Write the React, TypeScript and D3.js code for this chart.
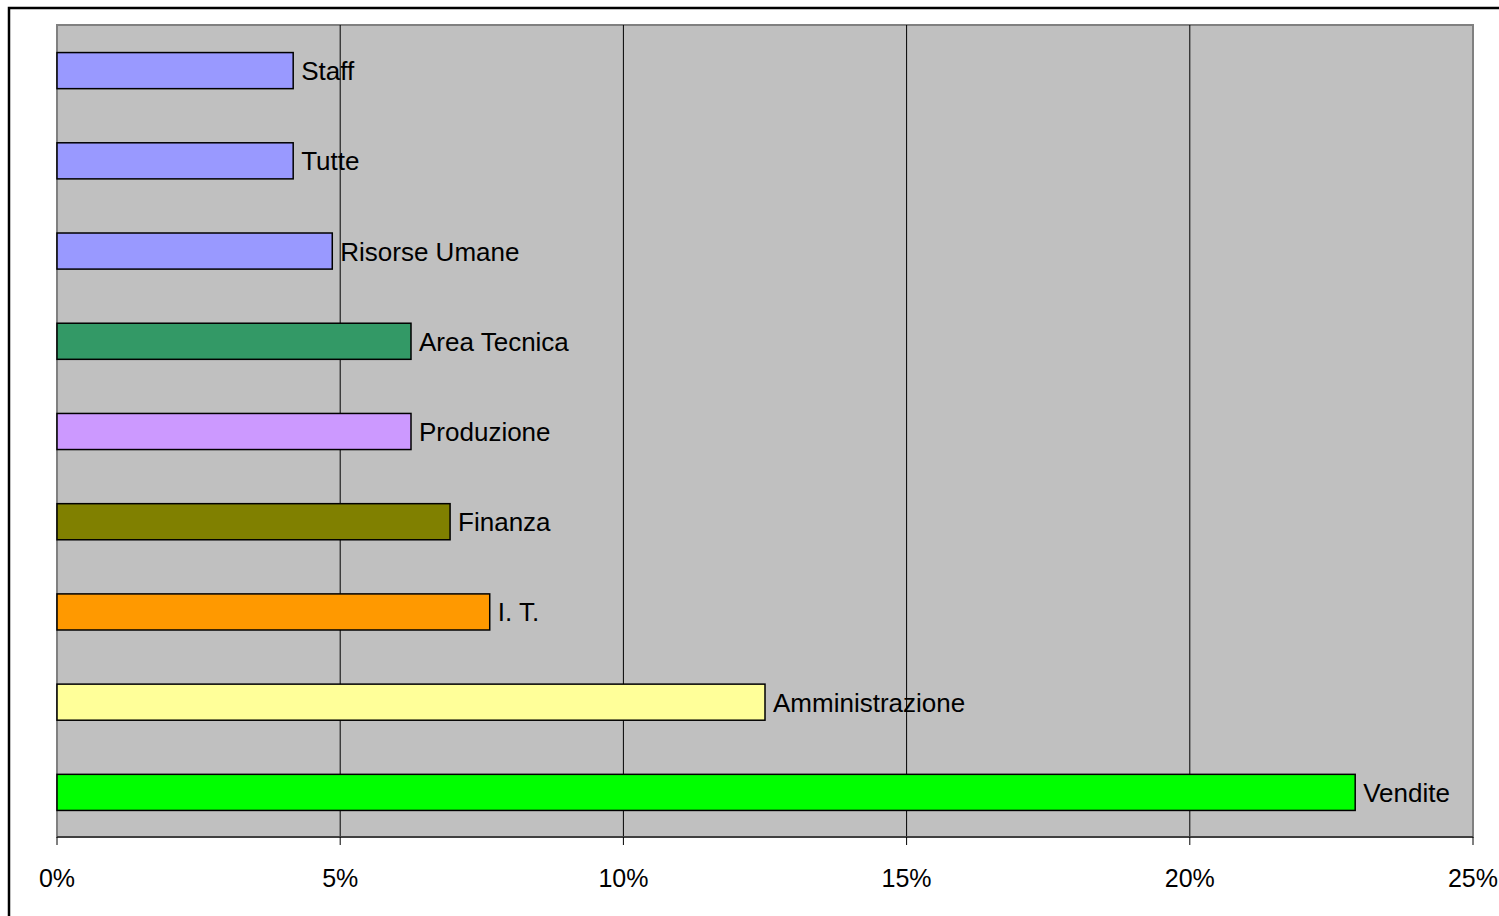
import React from "react";
import * as d3 from "d3";

const categories = ["Staff", "Tutte", "Risorse Umane", "Area Tecnica", "Produzione", "Finanza", "I. T.", "Amministrazione", "Vendite"];
const values = [4.17, 4.17, 4.86, 6.25, 6.25, 6.94, 7.64, 12.5, 22.92];
const colors = ["#9999FF", "#9999FF", "#9999FF", "#339966", "#CC99FF", "#808000", "#FF9900", "#FFFF99", "#00FF00"];
const ticks = [0, 5, 10, 15, 20, 25];

const W = 1499, H = 916;
const left = 57, right = 1473, top = 25, bottom = 837;

export default function App() {
  const x = d3.scaleLinear().domain([0, 25]).range([left, right]);
  const y = d3.scaleBand<string>().domain(categories).range([top, bottom]).paddingInner(0.6).paddingOuter(0.3);
  const font = "'Liberation Sans', Arial, sans-serif";
  return (
    <svg width={W} height={H} style={{ position: "absolute", left: 0, top: 0, background: "#fff" }}>
      <rect x={9} y={8} width={1520} height={940} fill="#fff" stroke="#000" strokeWidth={2.5} />
      <rect x={left} y={top} width={right - left} height={bottom - top} fill="#C0C0C0" stroke="#808080" strokeWidth={2} />
      {ticks.slice(1, -1).map((t) => (
        <line key={"g" + t} x1={x(t)} x2={x(t)} y1={top} y2={bottom} stroke="#000" strokeWidth={1} />
      ))}
      {categories.map((c, i) => (
        <g key={c}>
          <rect x={x(0)} y={y(c)! + 0.5} width={x(values[i]) - x(0)} height={y.bandwidth()} fill={colors[i]} stroke="#000" strokeWidth={1.5} />
          <text x={x(values[i]) + 8} y={y(c)! + y.bandwidth() / 2 + 1} dominantBaseline="central" fontFamily={font} fontSize={26} fill="#000">{c}</text>
        </g>
      ))}
      <line x1={left} x2={right} y1={bottom} y2={bottom} stroke="#404040" strokeWidth={2} />
      {ticks.map((t) => (
        <g key={"t" + t}>
          <line x1={x(t)} x2={x(t)} y1={bottom} y2={bottom + 8} stroke="#000" strokeWidth={1} />
          <text x={x(t)} y={887} textAnchor="middle" fontFamily={font} fontSize={25} fill="#000">{t + "%"}</text>
        </g>
      ))}
    </svg>
  );
}
